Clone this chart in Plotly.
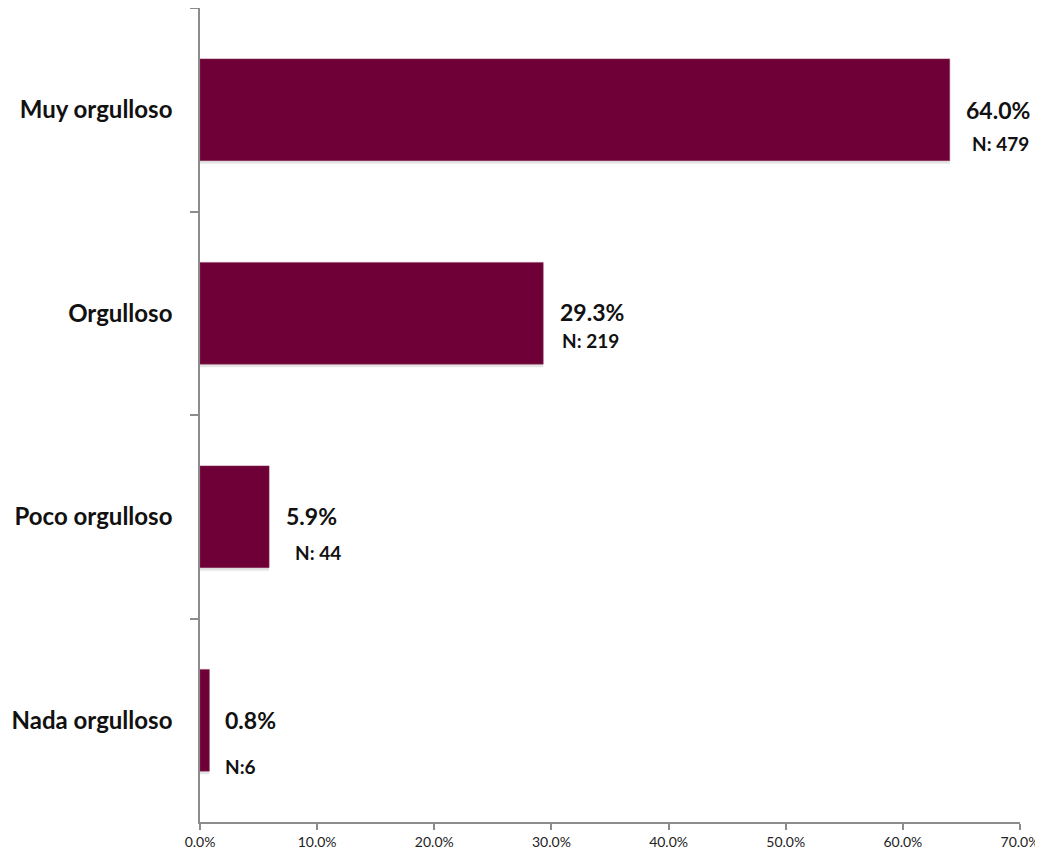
import plotly.graph_objects as go

categories = ["Muy orgulloso", "Orgulloso", "Poco orgulloso", "Nada orgulloso"]
percentages = [64.0, 29.3, 5.9, 0.8]
counts_text = ["N: 479", "N: 219", "N: 44", "N:6"]
x_ticks = [0, 10, 20, 30, 40, 50, 60, 70]

# label offsets in pixels (style only)
pct_dx = [14, 15, 15, 14]
pct_dy = [0, 1, 1, 0]
n_dx = [20, 17, 24, 14]
n_dy = [-34, -27, -36, -46]

BAR = "#6E0037"
FONT = "Lato, Open Sans, sans-serif"

fig = go.Figure()
# soft shadow
fig.add_trace(go.Bar(
    y=categories, x=percentages, orientation="h",
    marker=dict(color="rgba(0,0,0,0.10)", line=dict(width=0)),
    width=0.5, offset=-0.235, hoverinfo="skip", showlegend=False,
))
fig.add_trace(go.Bar(
    y=categories, x=percentages, orientation="h",
    marker=dict(color=BAR, line=dict(color="#8a3a5c", width=0.5)),
    width=0.5, offset=-0.25, showlegend=False,
))

for i, cat in enumerate(categories):
    fig.add_annotation(
        x=percentages[i], y=cat, xref="x", yref="y",
        text=f"{percentages[i]:.1f}%", showarrow=False,
        xanchor="left", yanchor="middle", xshift=pct_dx[i], yshift=pct_dy[i],
        font=dict(family=FONT, size=23, color="#111111", weight="bold"),
    )
    fig.add_annotation(
        x=percentages[i], y=cat, xref="x", yref="y",
        text=counts_text[i], showarrow=False,
        xanchor="left", yanchor="middle", xshift=n_dx[i], yshift=n_dy[i],
        font=dict(family=FONT, size=19, color="#111111", weight="bold"),
    )

# page body has an 8px margin, so the figure is sized/offset to compensate
fig.update_layout(
    width=1035, height=842,
    margin=dict(l=192, r=23, t=0, b=28, pad=0),
    paper_bgcolor="white", plot_bgcolor="white",
    barmode="overlay",
    xaxis=dict(
        range=[0, 70], tickvals=x_ticks,
        ticktext=[f"{v:.1f}%" for v in x_ticks],
        showgrid=False, zeroline=False, automargin=False,
        showline=True, linecolor="#8c8c8c", linewidth=1.5,
        ticks="outside", ticklen=6, tickcolor="#8c8c8c", tickwidth=1.5,
        tickfont=dict(family=FONT, size=14, color="#222222"),
    ),
    yaxis=dict(
        categoryorder="array", categoryarray=categories,
        autorange="reversed", automargin=False,
        showgrid=False, zeroline=False,
        showline=True, linecolor="#8c8c8c", linewidth=1.5,
        ticks="outside", ticklen=8, tickcolor="#8c8c8c", tickwidth=1.5,
        tickson="boundaries",
        ticklabelstandoff=21,
        tickfont=dict(family=FONT, size=24, color="#111111", weight="bold"),
    ),
    font=dict(family=FONT),
)

fig.write_html("out.html")
